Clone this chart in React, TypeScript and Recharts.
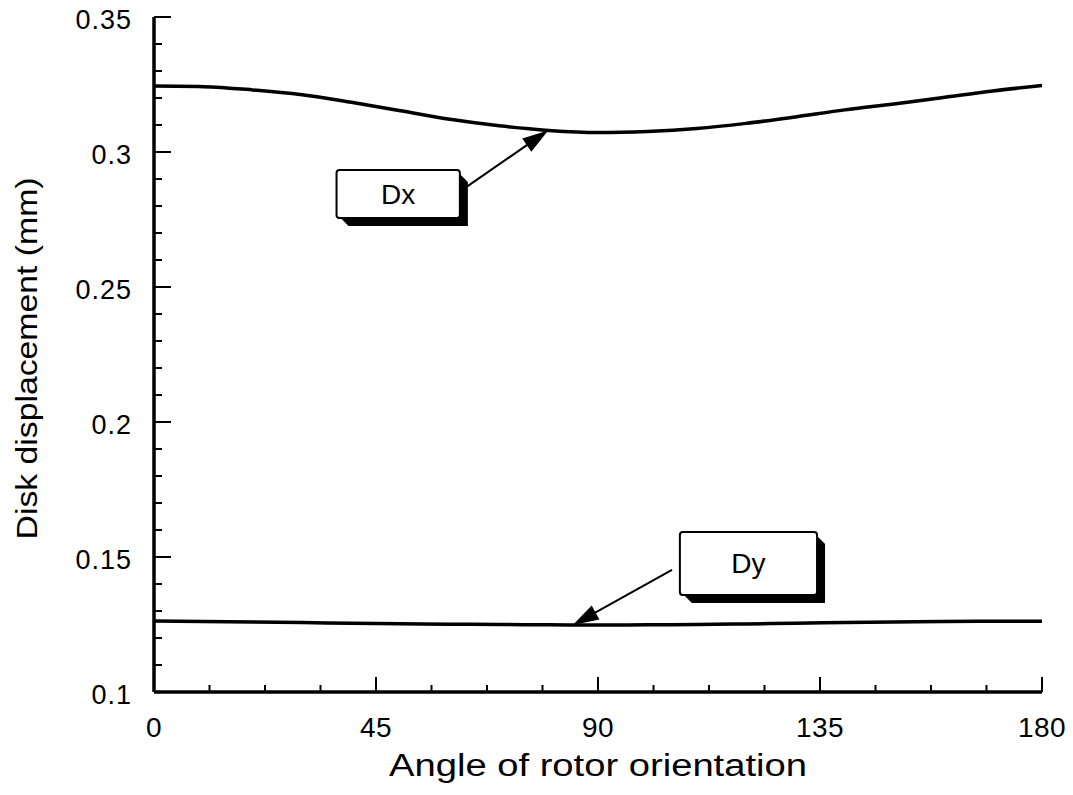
import { LineChart, Line, XAxis, YAxis, ReferenceArea, ReferenceLine } from 'recharts';

const FONT = "'Liberation Sans', Arial, Helvetica, sans-serif";

// rotor angle (deg) and disk displacement (mm)
const angles = [0, 10, 20, 30, 40, 50, 60, 70, 80, 90, 100, 110, 120, 130, 140, 150, 160, 170, 180];
const dxValues = [
  0.3244, 0.3242, 0.3230, 0.3212, 0.3184, 0.3153, 0.3121, 0.3097, 0.3080, 0.3072,
  0.3076, 0.3087, 0.3106, 0.3130, 0.3156, 0.3178, 0.3202, 0.3226, 0.3246,
];
const dyValues = [
  0.1263, 0.1261, 0.1259, 0.1257, 0.1255, 0.1253, 0.1251, 0.1250, 0.1249, 0.1248,
  0.1249, 0.1250, 0.1252, 0.1255, 0.1257, 0.1259, 0.1261, 0.1262, 0.1262,
];

const xMajor = [0, 45, 90, 135, 180];
const xMinor = [0, 11.25, 22.5, 33.75, 45, 56.25, 67.5, 78.75, 90, 101.25, 112.5, 123.75, 135, 146.25, 157.5, 168.75, 180];
const yMajor = [0.1, 0.15, 0.2, 0.25, 0.3, 0.35];
const yMinor = [
  0.1, 0.11, 0.12, 0.13, 0.14, 0.15, 0.16, 0.17, 0.18, 0.19, 0.2, 0.21, 0.22,
  0.23, 0.24, 0.25, 0.26, 0.27, 0.28, 0.29, 0.3, 0.31, 0.32, 0.33, 0.34, 0.35,
];

const data = angles.map((angle, i) => ({ angle, dx: dxValues[i], dy: dyValues[i] }));

const frame = { stroke: '#000', strokeWidth: 3.5 };

// ticks point into the plot; majors are longer and carry the labels
const BottomTick = ({ x, y, payload }: any) => {
  const major = xMajor.includes(payload.value);
  return (
    <g>
      <line x1={x} y1={y} x2={x} y2={y - (major ? 15 : 7)} stroke="#000" strokeWidth={2} />
      {major && (
        <text x={x} y={y + 45} textAnchor="middle" fontSize={28} fontFamily={FONT} fill="#000" letterSpacing={0.5}>
          {payload.value}
        </text>
      )}
    </g>
  );
};

const TopTick = ({ x, y, payload }: any) => {
  const major = xMajor.includes(payload.value);
  return <line x1={x} y1={y} x2={x} y2={y + (major ? 15 : 7)} stroke="#000" strokeWidth={2} />;
};

const LeftTick = ({ x, y, payload }: any) => {
  const major = yMajor.includes(payload.value);
  return (
    <g>
      <line x1={x} y1={y} x2={x + (major ? 17 : 8)} y2={y} stroke="#000" strokeWidth={2} />
      {major && (
        <text x={x - 22} y={y + 12} textAnchor="end" fontSize={27} fontFamily={FONT} fill="#000" letterSpacing={1}>
          {payload.value}
        </text>
      )}
    </g>
  );
};

const RightTick = ({ x, y, payload }: any) => {
  const major = yMajor.includes(payload.value);
  return <line x1={x} y1={y} x2={x - (major ? 17 : 8)} y2={y} stroke="#000" strokeWidth={2} />;
};

const XTitle = ({ viewBox }: any) => (
  <text
    x={viewBox.x + viewBox.width / 2}
    y={viewBox.y + 84}
    textAnchor="middle"
    fontSize={31}
    fontFamily={FONT}
    fill="#000"
    textLength={418}
    lengthAdjust="spacingAndGlyphs"
  >
    Angle of rotor orientation
  </text>
);

const YTitle = ({ viewBox }: any) => {
  const cx = viewBox.x + 29;
  const cy = viewBox.y + viewBox.height / 2 + 4;
  return (
    <text
      x={cx}
      y={cy}
      transform={`rotate(-90 ${cx} ${cy})`}
      textAnchor="middle"
      fontSize={30}
      fontFamily={FONT}
      fill="#000"
      textLength={362}
      lengthAdjust="spacingAndGlyphs"
    >
      Disk displacement (mm)
    </text>
  );
};

// white label box with a heavy drop shadow to the lower right
const calloutBox = (text: string) => ({ x, y, width, height }: any) => {
  const d = 8;
  return (
    <g>
      <path
        d={`M${x + 4},${y + height} L${x + width},${y + height} L${x + width},${y + 4} L${x + width + d},${y + d + 4} L${x + width + d},${y + height + d} L${x + d + 4},${y + height + d} Z`}
        fill="#000"
      />
      <rect x={x} y={y} width={width} height={height} rx={3} fill="#fff" stroke="#000" strokeWidth={2} />
      <text x={x + width / 2} y={y + height / 2 + 10} textAnchor="middle" fontSize={28} fontFamily={FONT} fill="#000">
        {text}
      </text>
    </g>
  );
};

const arrow = ({ x1, y1, x2, y2 }: any) => {
  const len = Math.hypot(x2 - x1, y2 - y1);
  const ux = (x2 - x1) / len;
  const uy = (y2 - y1) / len;
  const head = 26;
  const half = 8;
  const bx = x2 - ux * head;
  const by = y2 - uy * head;
  return (
    <g>
      <line x1={x1} y1={y1} x2={bx + ux * 4} y2={by + uy * 4} stroke="#000" strokeWidth={2} />
      <path
        d={`M${x2},${y2} L${bx - uy * half},${by + ux * half} L${bx + uy * half},${by - ux * half} Z`}
        fill="#000"
      />
    </g>
  );
};

const App = () => (
  <div style={{ width: 1057, height: 787, marginTop: -8, background: '#fff' }}>
    <LineChart width={1057} height={787} data={data} margin={{ top: 17, right: 23, bottom: 0, left: 0 }}>
      <XAxis
        xAxisId="x"
        dataKey="angle"
        type="number"
        domain={[0, 180]}
        allowDataOverflow
        ticks={xMinor}
        interval={0}
        height={95}
        axisLine={frame}
        tickLine={false}
        tickSize={0}
        tickMargin={0}
        tick={<BottomTick />}
        label={{ content: <XTitle /> }}
      />
      <XAxis
        xAxisId="top"
        orientation="top"
        type="number"
        domain={[0, 180]}
        allowDataOverflow
        ticks={xMinor}
        interval={0}
        height={0}
        axisLine={frame}
        tickLine={false}
        tickSize={0}
        tickMargin={0}
        tick={<TopTick />}
      />
      <YAxis
        yAxisId="y"
        type="number"
        domain={[0.1, 0.35]}
        allowDataOverflow
        ticks={yMinor}
        interval={0}
        width={146}
        axisLine={frame}
        tickLine={false}
        tickSize={0}
        tickMargin={0}
        tick={<LeftTick />}
        label={{ content: <YTitle /> }}
      />
      <YAxis
        yAxisId="right"
        orientation="right"
        type="number"
        domain={[0.1, 0.35]}
        allowDataOverflow
        ticks={yMinor}
        interval={0}
        width={0}
        axisLine={frame}
        tickLine={false}
        tickSize={0}
        tickMargin={0}
        tick={<RightTick />}
      />
      <Line xAxisId="x" yAxisId="y" type="monotone" dataKey="dx" stroke="#000" strokeWidth={3.5} dot={false} isAnimationActive={false} />
      <Line xAxisId="x" yAxisId="y" type="monotone" dataKey="dy" stroke="#000" strokeWidth={3.5} dot={false} isAnimationActive={false} />

      <ReferenceLine
        xAxisId="x"
        yAxisId="y"
        segment={[{ x: 62.4, y: 0.2859 }, { x: 79.9, y: 0.308 }]}
        ifOverflow="visible"
        shape={arrow}
      />
      <ReferenceArea xAxisId="x" yAxisId="y" x1={37} x2={62} y1={0.2756} y2={0.2933} ifOverflow="visible" shape={calloutBox('Dx')} />

      <ReferenceLine
        xAxisId="x"
        yAxisId="y"
        segment={[{ x: 105, y: 0.1452 }, { x: 84.9, y: 0.1248 }]}
        ifOverflow="visible"
        shape={arrow}
      />
      <ReferenceArea xAxisId="x" yAxisId="y" x1={106.6} x2={134.4} y1={0.1359} y2={0.1593} ifOverflow="visible" shape={calloutBox('Dy')} />
    </LineChart>
  </div>
);

export default App;
